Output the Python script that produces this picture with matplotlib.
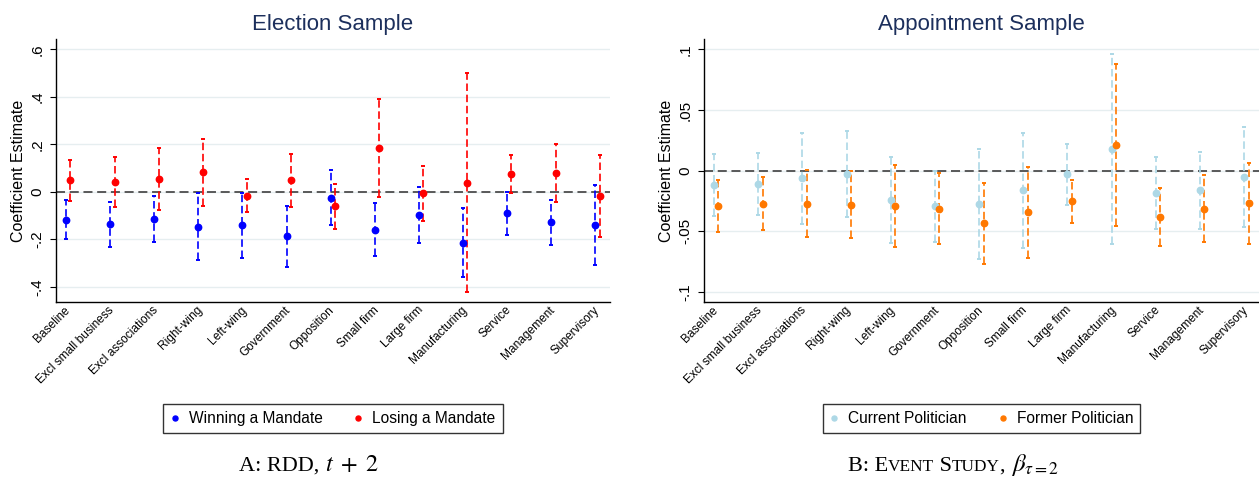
import numpy as np
import matplotlib
matplotlib.use("Agg")
import matplotlib.pyplot as plt
from matplotlib.lines import Line2D

plt.rcParams["font.family"] = ["Liberation Sans", "DejaVu Sans"]
plt.rcParams["mathtext.fontset"] = "stix"

# ---- data ----
categories = ["Baseline", "Excl small business", "Excl associations", "Right-wing",
              "Left-wing", "Government", "Opposition", "Small firm", "Large firm",
              "Manufacturing", "Service", "Management", "Supervisory"]

# panel A: election sample (RDD, t+2)
win_coef = [-0.118, -0.136, -0.115, -0.149, -0.142, -0.188, -0.025, -0.160, -0.098, -0.214, -0.090, -0.129, -0.140]
win_lo = [-0.200, -0.233, -0.210, -0.289, -0.279, -0.315, -0.142, -0.271, -0.214, -0.360, -0.181, -0.223, -0.307]
win_hi = [-0.035, -0.042, -0.020, -0.007, -0.004, -0.060, 0.090, -0.049, 0.018, -0.069, 0.000, -0.035, 0.027]

lose_coef = [0.048, 0.042, 0.053, 0.081, -0.017, 0.048, -0.060, 0.185, -0.006, 0.038, 0.074, 0.080, -0.018]
lose_lo = [-0.039, -0.063, -0.076, -0.059, -0.087, -0.064, -0.156, -0.024, -0.122, -0.422, -0.007, -0.045, -0.192]
lose_hi = [0.134, 0.147, 0.182, 0.221, 0.053, 0.160, 0.032, 0.391, 0.109, 0.500, 0.155, 0.202, 0.155]

# panel B: appointment sample (event study)
cur_coef = [-0.0120, -0.0110, -0.0060, -0.0030, -0.0241, -0.0290, -0.0272, -0.0162, -0.0030, 0.0178, -0.0180, -0.0160, -0.0050]
cur_lo = [-0.0373, -0.0368, -0.0436, -0.0384, -0.0595, -0.0587, -0.0724, -0.0634, -0.0283, -0.0604, -0.0478, -0.0478, -0.0463]
cur_hi = [0.0134, 0.0145, 0.0310, 0.0324, 0.0112, 0.0000, 0.0181, 0.0310, 0.0220, 0.0963, 0.0113, 0.0154, 0.0359]

fmr_coef = [-0.0290, -0.0272, -0.0272, -0.0283, -0.0290, -0.0313, -0.0431, -0.0343, -0.0252, 0.0209, -0.0380, -0.0312, -0.0270]
fmr_lo = [-0.0508, -0.0488, -0.0546, -0.0557, -0.0626, -0.0606, -0.0765, -0.0716, -0.0428, -0.0457, -0.0618, -0.0586, -0.0605]
fmr_hi = [-0.0080, -0.0055, 0.0005, -0.0005, 0.0044, -0.0020, -0.0099, 0.0030, -0.0080, 0.0878, -0.0142, -0.0033, 0.0066]

left_ticks = [0.6, 0.4, 0.2, 0, -0.2, -0.4]
left_ticklabels = [".6", ".4", ".2", "0", "-.2", "-.4"]
right_ticks = [0.1, 0.05, 0, -0.05, -0.1]
right_ticklabels = [".1", ".05", "0", "-.05", "-.1"]

TITLE_COL = "#1c2f5c"
GRID_COL = "#e6eef0"

fig = plt.figure(figsize=(12.59, 4.82), dpi=100)
ax1 = fig.add_axes([55.7 / 1259, 1 - 302 / 482, 554.3 / 1259, 262.7 / 482])
ax2 = fig.add_axes([703.7 / 1259, 1 - 302 / 482, 555.3 / 1259, 262.7 / 482])


def draw_series(ax, xs, coef, lo, hi, color):
    coef = np.array(coef)
    err = [coef - np.array(lo), np.array(hi) - coef]
    eb = ax.errorbar(xs, coef, yerr=err, fmt="o", color=color, ms=4.6,
                     elinewidth=1.2, capsize=1.6, capthick=1.4, zorder=3)
    eb[2][0].set_linestyle((0, (4.5, 2.2)))
    return eb


def setup_panel(ax, title, ticks, ticklabels, ylim):
    x = np.arange(1, len(categories) + 1)
    ax.set_xlim(0.715, 13.285)
    ax.set_ylim(*ylim)
    ax.set_yticks(ticks)
    ax.set_yticklabels(ticklabels)
    ax.set_xticks(x)
    ax.set_xticklabels(categories, rotation=45, ha="right", va="center",
                       rotation_mode="anchor", fontsize=8.6)
    ax.tick_params(axis="x", length=0, pad=4.5)
    ax.tick_params(axis="y", length=4.3, width=0.8, pad=4, labelsize=11, labelrotation=90)
    for lab in ax.get_yticklabels():
        lab.set_va("center")
    for t in ticks:
        ax.axhline(t, color=GRID_COL, lw=1.0, zorder=0)
    ax.axhline(0, color="#4d4d4d", lw=1.3, ls=(0, (5, 2.6)), zorder=1)
    for s in ["top", "right"]:
        ax.spines[s].set_visible(False)
    ax.spines["left"].set_linewidth(1.0)
    ax.spines["bottom"].set_linewidth(1.0)
    ax.set_title(title, fontsize=16, color=TITLE_COL, pad=7)
    ax.set_ylabel("Coefficient Estimate", fontsize=11.5)
    ax.yaxis.set_label_coords(-0.053, 0.5)


xs = np.arange(1, len(categories) + 1)

setup_panel(ax1, "Election Sample", left_ticks, left_ticklabels, (-0.4644, 0.6417))
draw_series(ax1, xs - 0.05, win_coef, win_lo, win_hi, "#0000ff")
draw_series(ax1, xs + 0.05, lose_coef, lose_lo, lose_hi, "#ff0000")

setup_panel(ax2, "Appointment Sample", right_ticks, right_ticklabels, (-0.1082, 0.1082))
draw_series(ax2, xs - 0.05, cur_coef, cur_lo, cur_hi, "#add8e6")
draw_series(ax2, xs + 0.05, fmr_coef, fmr_lo, fmr_hi, "#ff7800")

# legends
def add_legend(ax, labels, colors, cx):
    handles = [Line2D([], [], marker="o", ls="", ms=3.6, color=c) for c in colors]
    leg = ax.legend(handles, labels, loc="center", ncol=2,
                    bbox_to_anchor=(cx / 1259, 1 - 418.8 / 482),
                    bbox_transform=fig.transFigure, fontsize=11.2,
                    frameon=True, fancybox=False, edgecolor="black",
                    handlelength=0.6, handletextpad=0.6, columnspacing=2.0,
                    borderpad=0.45, borderaxespad=0)
    leg.get_frame().set_linewidth(1.0)
    return leg


add_legend(ax1, ["Winning a Mandate", "Losing a Mandate"], ["#0000ff", "#ff0000"], 332.9)
add_legend(ax2, ["Current Politician", "Former Politician"], ["#add8e6", "#ff7800"], 981.4)

# captions (serif, small caps faked piecewise)
CAP_Y = 1 - 471 / 482
serif = ["Liberation Serif", "DejaVu Serif"]


def piece_text(x0, pieces):
    renderer = fig.canvas.get_renderer()
    x = x0
    for s, size in pieces:
        t = fig.text(x, CAP_Y, s, fontsize=size, family=serif, ha="left", va="baseline")
        bb = t.get_window_extent(renderer=renderer)
        x = bb.x1 / fig.bbox.width


piece_text(239 / 1259, [("A: RDD, ", 16), (r"$t\;+\;2$", 17.5)])
piece_text(847.7 / 1259, [("B: E", 16), ("VENT", 12.4), (" S", 16), ("TUDY", 12.4),
                          (", ", 16), (r"$\beta_{\tau=2}$", 18)])

fig.savefig("out.png", dpi=100, facecolor="white")
